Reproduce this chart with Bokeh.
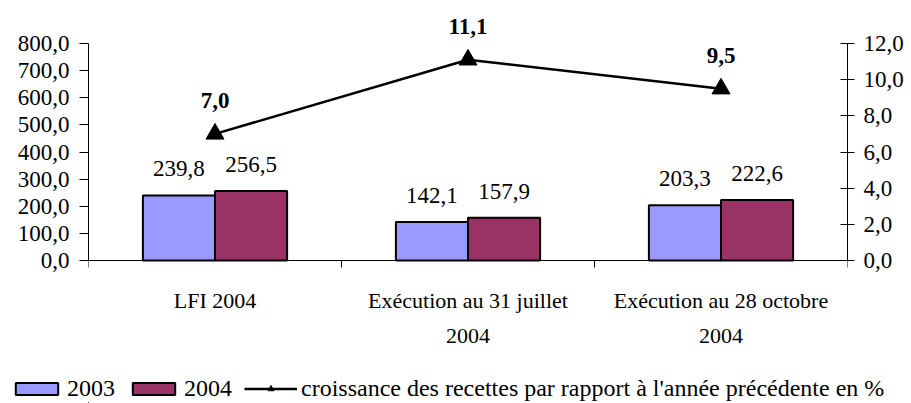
import math
from bokeh.plotting import figure
from bokeh.layouts import column
from bokeh.models import (ColumnDataSource, Range1d, LinearAxis, FixedTicker,
                          Legend, LegendItem, Span)
from bokeh.transform import dodge
from bokeh.core.properties import value
from bokeh.embed import file_html
from bokeh.resources import INLINE

categories = ["LFI 2004", "Exécution au 31 juillet\n2004", "Exécution au 28 octobre\n2004"]
recettes_2003 = [239.8, 142.1, 203.3]
recettes_2004 = [256.5, 157.9, 222.6]
croissance = [7.0, 11.1, 9.5]
left_ticks = [0, 100, 200, 300, 400, 500, 600, 700, 800]
right_ticks = [0, 2, 4, 6, 8, 10, 12]
series_names = ["2003", "2004", "croissance des recettes par rapport à l'année précédente en %"]

def fr(v):
    return f"{v:.1f}".replace(".", ",")

FONT = "Liberation Serif"
FS = "23px"
FS_CAT = "22px"
FS_LEG = "24px"
C03 = "#9999FF"
C04 = "#993366"

# layout (canvas pixels)
FRAME_LEFT = 88
FRAME_W = 759
RIGHT_W = 58
FRAME_TOP = 8
FRAME_H = 342
AX_TOP = 43      # where 800 sits
AX_ZERO = 260    # where 0 sits
LMAX = left_ticks[-1]
RMAX = right_ticks[-1]
k = (AX_ZERO - AX_TOP) / LMAX
y_hi = LMAX + (AX_TOP - FRAME_TOP) / k
y_lo = -(FRAME_TOP + FRAME_H - AX_ZERO) / k

n = len(categories)
centers = [i + 0.5 for i in range(n)]
src = ColumnDataSource(dict(
    x=centers,
    zero=[0] * n,
    cat=categories,
    y03=recettes_2003,
    y04=recettes_2004,
    g=croissance,
    l03=[fr(v) for v in recettes_2003],
    l04=[fr(v) for v in recettes_2004],
    lg=[fr(v) for v in croissance],
))
bounds_src = ColumnDataSource(dict(x=list(range(n + 1)), y=[0] * (n + 1)))

p = figure(frame_width=FRAME_W, frame_height=FRAME_H, output_backend="svg",
           toolbar_location=None, x_axis_location=None,
           x_range=Range1d(0, n), y_range=Range1d(y_lo, y_hi),
           min_border_left=FRAME_LEFT, min_border_right=RIGHT_W, min_border_top=FRAME_TOP,
           min_border_bottom=0)
p.outline_line_color = None
p.xgrid.visible = False
p.ygrid.visible = False
p.extra_y_ranges = {"pct": Range1d(y_lo * RMAX / LMAX, y_hi * RMAX / LMAX)}

# baseline and category boundary ticks
p.add_layout(Span(location=0, dimension="width", line_color="black", line_width=1))
p.ray(x="x", y="y", source=bounds_src, length=7, length_units="screen",
      angle=-math.pi / 2, line_color="black", line_width=1)

bw = 0.285
p.vbar(x=dodge("x", -bw / 2, range=p.x_range), top="y03", width=bw, source=src,
       fill_color=C03, line_color="black", line_width=2)
p.vbar(x=dodge("x", bw / 2, range=p.x_range), top="y04", width=bw, source=src,
       fill_color=C04, line_color="black", line_width=2)

p.text(x=dodge("x", -bw / 2, range=p.x_range), y="y03", text="l03", source=src,
       text_font=value(FONT), text_font_size=FS, text_align="center",
       text_baseline="bottom", y_offset=-19, text_color="black")
p.text(x=dodge("x", bw / 2, range=p.x_range), y="y04", text="l04", source=src,
       text_font=value(FONT), text_font_size=FS, text_align="center",
       text_baseline="bottom", y_offset=-19, text_color="black")

p.line(x="x", y="g", source=src, y_range_name="pct", line_color="black", line_width=2.5)
p.scatter(x="x", y="g", source=src, y_range_name="pct", marker="triangle",
          size=18, fill_color="black", line_color="black")
p.text(x="x", y="g", text="lg", source=src, y_range_name="pct",
       text_font=value(FONT), text_font_size=FS, text_font_style="bold",
       text_align="center", text_baseline="bottom", y_offset=-26, text_color="black")

# category labels under the baseline
p.text(x="x", y="zero", text="cat", source=src,
       text_font=value(FONT), text_font_size=FS_CAT, text_align="center",
       text_baseline="top", y_offset=27, text_line_height=1.4, text_color="black")

# left axis
ya = p.yaxis[0]
ya.bounds = (0, LMAX)
ya.ticker = FixedTicker(ticks=left_ticks, minor_ticks=[])
ya.major_label_overrides = {t: fr(t) for t in left_ticks}
ya.major_tick_out = 9
ya.major_tick_in = 0
ya.major_label_standoff = 10
ya.major_label_text_font = FONT
ya.major_label_text_font_size = FS
ya.major_label_text_color = "black"
ya.axis_line_color = "black"
ya.major_tick_line_color = "black"

# right axis
ra = LinearAxis(y_range_name="pct", ticker=FixedTicker(ticks=right_ticks, minor_ticks=[]),
                bounds=(0, RMAX))
ra.major_label_overrides = {t: fr(t) for t in right_ticks}
ra.major_tick_out = 7
ra.major_tick_in = 7
ra.major_label_standoff = 9
ra.major_label_text_font = FONT
ra.major_label_text_font_size = FS
ra.major_label_text_color = "black"
ra.axis_line_color = "black"
ra.major_tick_line_color = "black"
p.add_layout(ra, "right")

# legend strip: same series and styles, drawn outside its visible ranges
LEG_W = FRAME_LEFT + FRAME_W + RIGHT_W
LEG_H = 53
lf = figure(frame_width=LEG_W, frame_height=LEG_H, output_backend="svg",
            toolbar_location=None, x_axis_location=None, y_axis_location=None,
            x_range=Range1d(100, 101), y_range=Range1d(5000, 5001),
            min_border_left=0, min_border_right=0, min_border_top=0, min_border_bottom=0)
lf.outline_line_color = None
lf.xgrid.visible = False
lf.ygrid.visible = False
e03 = lf.vbar(x="x", top="y03", width=bw, source=src,
              fill_color=C03, line_color="black", line_width=2)
e04 = lf.vbar(x="x", top="y04", width=bw, source=src,
              fill_color=C04, line_color="black", line_width=2)
el = lf.line(x="x", y="g", source=src, line_color="black", line_width=2.5)
em = lf.scatter(x="x", y="g", source=src, marker="triangle", size=18,
                fill_color="black", line_color="black")

legend = Legend(items=[
    LegendItem(label=series_names[0], renderers=[e03]),
    LegendItem(label=series_names[1], renderers=[e04]),
    LegendItem(label=series_names[2], renderers=[el, em]),
], orientation="horizontal", location=(10, 1),
    glyph_width=53, glyph_height=15, label_standoff=4, spacing=12,
    padding=0, margin=0, border_line_color=None, background_fill_alpha=0,
    label_text_font=FONT, label_text_font_size=FS_LEG, label_text_color="black",
    label_height=22)
lf.add_layout(legend, "center")

open("out.html", "w").write(file_html(column(p, lf), INLINE))
